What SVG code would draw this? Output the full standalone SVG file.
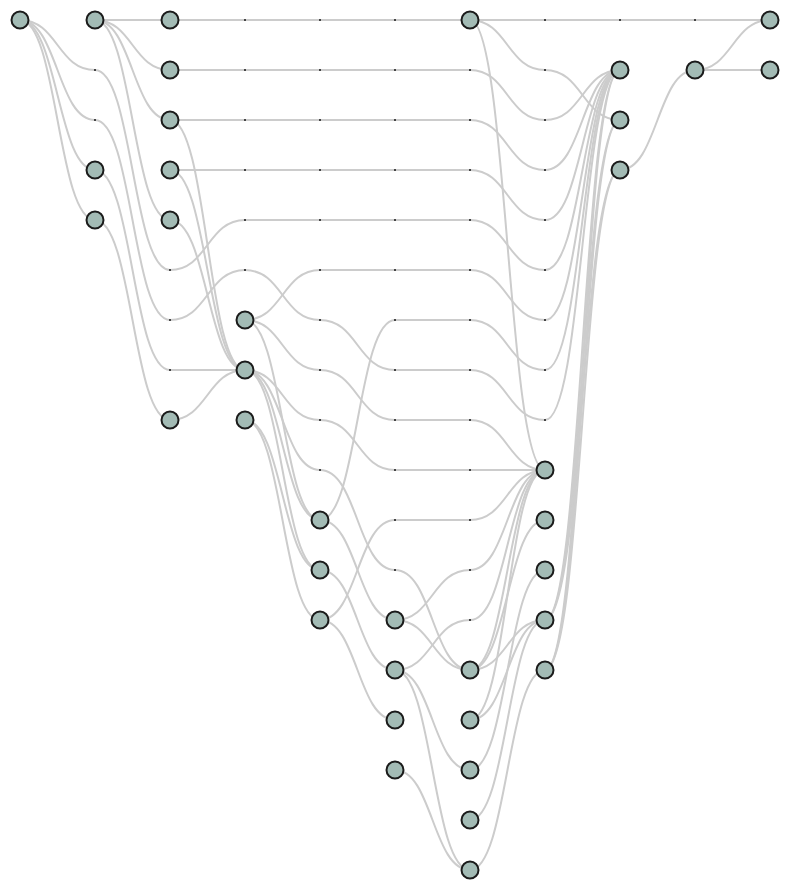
<svg xmlns="http://www.w3.org/2000/svg" width="790" height="890" viewBox="0 0 790 890">
<style>
.e{fill:none;stroke:#cccccc;stroke-width:2}
.n{fill:#a3bbb5;stroke:#1b1b1b;stroke-width:2}
.d{fill:#444444}
</style>
<rect width="790" height="890" fill="#ffffff"/>
<g id="connectors">
<path class="e" d="M20,20 C57.5,20 57.5,70 95,70 C132.5,70 132.5,270 170,270 C207.5,270 207.5,220 245,220 L470,220 C507.5,220 507.5,270 545,270 C582.5,270 582.5,70 620,70"/>
<path class="e" d="M20,20 C57.5,20 57.5,120 95,120 C132.5,120 132.5,320 170,320 C207.5,320 207.5,270 245,270 C282.5,270 282.5,320 320,320 C357.5,320 357.5,370 395,370 L470,370 C507.5,370 507.5,420 545,420 C582.5,420 582.5,70 620,70"/>
<path class="e" d="M20,20 C57.5,20 57.5,170 95,170"/>
<path class="e" d="M20,20 C57.5,20 57.5,220 95,220"/>
<path class="e" d="M95,20 L170,20"/>
<path class="e" d="M95,20 C132.5,20 132.5,70 170,70"/>
<path class="e" d="M95,20 C132.5,20 132.5,120 170,120"/>
<path class="e" d="M95,20 C132.5,20 132.5,220 170,220"/>
<path class="e" d="M95,170 C132.5,170 132.5,370 170,370 L245,370"/>
<path class="e" d="M95,220 C132.5,220 132.5,420 170,420"/>
<path class="e" d="M170,20 L470,20"/>
<path class="e" d="M170,70 L470,70 C507.5,70 507.5,120 545,120 C582.5,120 582.5,70 620,70"/>
<path class="e" d="M170,120 L470,120 C507.5,120 507.5,170 545,170 C582.5,170 582.5,70 620,70"/>
<path class="e" d="M170,120 C207.5,120 207.5,370 245,370"/>
<path class="e" d="M170,170 L470,170 C507.5,170 507.5,220 545,220 C582.5,220 582.5,70 620,70"/>
<path class="e" d="M170,170 C207.5,170 207.5,370 245,370"/>
<path class="e" d="M170,220 C207.5,220 207.5,370 245,370"/>
<path class="e" d="M170,420 C207.5,420 207.5,370 245,370"/>
<path class="e" d="M245,320 C282.5,320 282.5,270 320,270 L470,270 C507.5,270 507.5,320 545,320 C582.5,320 582.5,70 620,70"/>
<path class="e" d="M245,320 C282.5,320 282.5,370 320,370 C357.5,370 357.5,420 395,420 L470,420 C507.5,420 507.5,470 545,470"/>
<path class="e" d="M245,320 C282.5,320 282.5,520 320,520"/>
<path class="e" d="M245,370 C282.5,370 282.5,420 320,420 C357.5,420 357.5,470 395,470 L545,470"/>
<path class="e" d="M245,370 C282.5,370 282.5,470 320,470 C357.5,470 357.5,570 395,570 C432.5,570 432.5,670 470,670"/>
<path class="e" d="M245,370 C282.5,370 282.5,520 320,520"/>
<path class="e" d="M245,370 C282.5,370 282.5,570 320,570"/>
<path class="e" d="M245,420 C282.5,420 282.5,570 320,570"/>
<path class="e" d="M245,420 C282.5,420 282.5,620 320,620"/>
<path class="e" d="M320,520 C357.5,520 357.5,320 395,320 L470,320 C507.5,320 507.5,370 545,370 C582.5,370 582.5,70 620,70"/>
<path class="e" d="M320,520 C357.5,520 357.5,620 395,620"/>
<path class="e" d="M320,570 C357.5,570 357.5,670 395,670"/>
<path class="e" d="M320,620 C357.5,620 357.5,520 395,520 L470,520 C507.5,520 507.5,470 545,470"/>
<path class="e" d="M320,620 C357.5,620 357.5,720 395,720"/>
<path class="e" d="M395,620 C432.5,620 432.5,570 470,570 C507.5,570 507.5,470 545,470"/>
<path class="e" d="M395,620 C432.5,620 432.5,670 470,670"/>
<path class="e" d="M395,670 C432.5,670 432.5,620 470,620 C507.5,620 507.5,470 545,470"/>
<path class="e" d="M395,670 C432.5,670 432.5,770 470,770"/>
<path class="e" d="M395,670 C432.5,670 432.5,870 470,870"/>
<path class="e" d="M395,770 C432.5,770 432.5,870 470,870"/>
<path class="e" d="M470,20 L770,20"/>
<path class="e" d="M470,20 C507.5,20 507.5,70 545,70 C582.5,70 582.5,120 620,120"/>
<path class="e" d="M470,20 C507.5,20 507.5,470 545,470"/>
<path class="e" d="M470,670 C507.5,670 507.5,470 545,470"/>
<path class="e" d="M470,670 C507.5,670 507.5,520 545,520"/>
<path class="e" d="M470,670 C507.5,670 507.5,620 545,620"/>
<path class="e" d="M470,720 C507.5,720 507.5,470 545,470"/>
<path class="e" d="M470,720 C507.5,720 507.5,620 545,620"/>
<path class="e" d="M470,770 C507.5,770 507.5,570 545,570"/>
<path class="e" d="M470,820 C507.5,820 507.5,620 545,620"/>
<path class="e" d="M470,870 C507.5,870 507.5,670 545,670"/>
<path class="e" d="M545,620 C582.5,620 582.5,70 620,70"/>
<path class="e" d="M545,620 C582.5,620 582.5,120 620,120"/>
<path class="e" d="M545,620 C582.5,620 582.5,170 620,170"/>
<path class="e" d="M545,670 C582.5,670 582.5,70 620,70"/>
<path class="e" d="M545,670 C582.5,670 582.5,120 620,120"/>
<path class="e" d="M545,670 C582.5,670 582.5,170 620,170"/>
<path class="e" d="M620,170 C657.5,170 657.5,70 695,70"/>
<path class="e" d="M695,70 C732.5,70 732.5,20 770,20"/>
<path class="e" d="M695,70 L770,70"/>
</g>
<g id="bends">
<rect class="d" x="94" y="69" width="2" height="2"/><rect class="d" x="94" y="119" width="2" height="2"/>
<rect class="d" x="169" y="269" width="2" height="2"/><rect class="d" x="169" y="319" width="2" height="2"/><rect class="d" x="169" y="369" width="2" height="2"/>
<rect class="d" x="244" y="19" width="2" height="2"/><rect class="d" x="244" y="69" width="2" height="2"/><rect class="d" x="244" y="119" width="2" height="2"/><rect class="d" x="244" y="169" width="2" height="2"/><rect class="d" x="244" y="219" width="2" height="2"/><rect class="d" x="244" y="269" width="2" height="2"/>
<rect class="d" x="319" y="19" width="2" height="2"/><rect class="d" x="319" y="69" width="2" height="2"/><rect class="d" x="319" y="119" width="2" height="2"/><rect class="d" x="319" y="169" width="2" height="2"/><rect class="d" x="319" y="219" width="2" height="2"/><rect class="d" x="319" y="269" width="2" height="2"/><rect class="d" x="319" y="319" width="2" height="2"/><rect class="d" x="319" y="369" width="2" height="2"/><rect class="d" x="319" y="419" width="2" height="2"/><rect class="d" x="319" y="469" width="2" height="2"/>
<rect class="d" x="394" y="19" width="2" height="2"/><rect class="d" x="394" y="69" width="2" height="2"/><rect class="d" x="394" y="119" width="2" height="2"/><rect class="d" x="394" y="169" width="2" height="2"/><rect class="d" x="394" y="219" width="2" height="2"/><rect class="d" x="394" y="269" width="2" height="2"/><rect class="d" x="394" y="319" width="2" height="2"/><rect class="d" x="394" y="369" width="2" height="2"/><rect class="d" x="394" y="419" width="2" height="2"/><rect class="d" x="394" y="469" width="2" height="2"/><rect class="d" x="394" y="519" width="2" height="2"/><rect class="d" x="394" y="569" width="2" height="2"/>
<rect class="d" x="469" y="69" width="2" height="2"/><rect class="d" x="469" y="119" width="2" height="2"/><rect class="d" x="469" y="169" width="2" height="2"/><rect class="d" x="469" y="219" width="2" height="2"/><rect class="d" x="469" y="269" width="2" height="2"/><rect class="d" x="469" y="319" width="2" height="2"/><rect class="d" x="469" y="369" width="2" height="2"/><rect class="d" x="469" y="419" width="2" height="2"/><rect class="d" x="469" y="469" width="2" height="2"/><rect class="d" x="469" y="519" width="2" height="2"/><rect class="d" x="469" y="569" width="2" height="2"/><rect class="d" x="469" y="619" width="2" height="2"/>
<rect class="d" x="544" y="19" width="2" height="2"/><rect class="d" x="544" y="69" width="2" height="2"/><rect class="d" x="544" y="119" width="2" height="2"/><rect class="d" x="544" y="169" width="2" height="2"/><rect class="d" x="544" y="219" width="2" height="2"/><rect class="d" x="544" y="269" width="2" height="2"/><rect class="d" x="544" y="319" width="2" height="2"/><rect class="d" x="544" y="369" width="2" height="2"/><rect class="d" x="544" y="419" width="2" height="2"/>
<rect class="d" x="619" y="19" width="2" height="2"/><rect class="d" x="694" y="19" width="2" height="2"/>
</g>
<g id="n0-0"><circle class="n" cx="20" cy="20" r="8.5"/></g>
<g id="n1-0"><circle class="n" cx="95" cy="20" r="8.5"/></g>
<g id="n1-3"><circle class="n" cx="95" cy="170" r="8.5"/></g>
<g id="n1-4"><circle class="n" cx="95" cy="220" r="8.5"/></g>
<g id="n2-0"><circle class="n" cx="170" cy="20" r="8.5"/></g>
<g id="n2-1"><circle class="n" cx="170" cy="70" r="8.5"/></g>
<g id="n2-2"><circle class="n" cx="170" cy="120" r="8.5"/></g>
<g id="n2-3"><circle class="n" cx="170" cy="170" r="8.5"/></g>
<g id="n2-4"><circle class="n" cx="170" cy="220" r="8.5"/></g>
<g id="n2-8"><circle class="n" cx="170" cy="420" r="8.5"/></g>
<g id="n3-6"><circle class="n" cx="245" cy="320" r="8.5"/></g>
<g id="n3-7"><circle class="n" cx="245" cy="370" r="8.5"/></g>
<g id="n3-8"><circle class="n" cx="245" cy="420" r="8.5"/></g>
<g id="n4-10"><circle class="n" cx="320" cy="520" r="8.5"/></g>
<g id="n4-11"><circle class="n" cx="320" cy="570" r="8.5"/></g>
<g id="n4-12"><circle class="n" cx="320" cy="620" r="8.5"/></g>
<g id="n5-12"><circle class="n" cx="395" cy="620" r="8.5"/></g>
<g id="n5-13"><circle class="n" cx="395" cy="670" r="8.5"/></g>
<g id="n5-14"><circle class="n" cx="395" cy="720" r="8.5"/></g>
<g id="n5-15"><circle class="n" cx="395" cy="770" r="8.5"/></g>
<g id="n6-0"><circle class="n" cx="470" cy="20" r="8.5"/></g>
<g id="n6-13"><circle class="n" cx="470" cy="670" r="8.5"/></g>
<g id="n6-14"><circle class="n" cx="470" cy="720" r="8.5"/></g>
<g id="n6-15"><circle class="n" cx="470" cy="770" r="8.5"/></g>
<g id="n6-16"><circle class="n" cx="470" cy="820" r="8.5"/></g>
<g id="n6-17"><circle class="n" cx="470" cy="870" r="8.5"/></g>
<g id="n7-9"><circle class="n" cx="545" cy="470" r="8.5"/></g>
<g id="n7-10"><circle class="n" cx="545" cy="520" r="8.5"/></g>
<g id="n7-11"><circle class="n" cx="545" cy="570" r="8.5"/></g>
<g id="n7-12"><circle class="n" cx="545" cy="620" r="8.5"/></g>
<g id="n7-13"><circle class="n" cx="545" cy="670" r="8.5"/></g>
<g id="n8-1"><circle class="n" cx="620" cy="70" r="8.5"/></g>
<g id="n8-2"><circle class="n" cx="620" cy="120" r="8.5"/></g>
<g id="n8-3"><circle class="n" cx="620" cy="170" r="8.5"/></g>
<g id="n9-1"><circle class="n" cx="695" cy="70" r="8.5"/></g>
<g id="n10-0"><circle class="n" cx="770" cy="20" r="8.5"/></g>
<g id="n10-1"><circle class="n" cx="770" cy="70" r="8.5"/></g>
</svg>
